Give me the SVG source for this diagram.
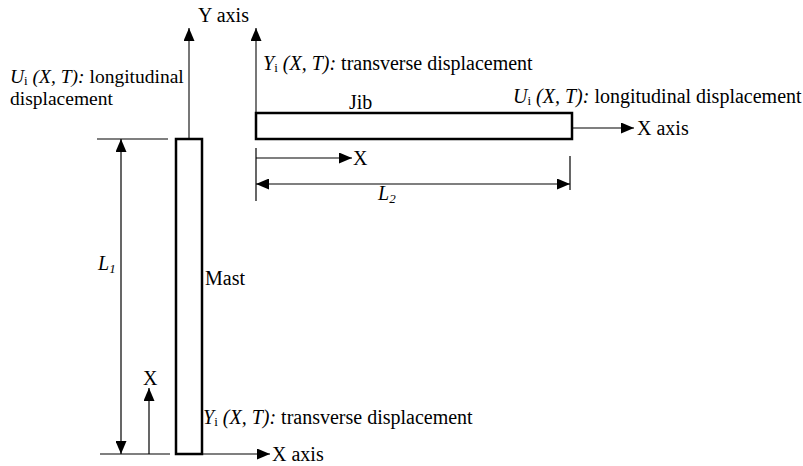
<svg xmlns="http://www.w3.org/2000/svg" width="803" height="466" viewBox="0 0 803 466">
<style>
.t{font-family:"Liberation Serif","Times New Roman",serif;font-size:20px;fill:#000}
.m{font-size:19.5px}
.i{font-style:italic}
.s{font-size:13px}
.ln{stroke:#000;stroke-width:1.2;fill:none}
.ax{stroke:#555;stroke-width:1.6;fill:none}
.box{fill:#fff;stroke:#000;stroke-width:2.5}
</style>
<defs>
<marker id="ah" markerUnits="userSpaceOnUse" markerWidth="13" markerHeight="11" refX="13" refY="5.5" orient="auto-start-reverse" viewBox="0 0 13 11">
<path d="M0,0 L13,5.5 L0,11 z" fill="#000"/>
</marker>
</defs>
<rect width="803" height="466" fill="#fff"/>
<g id="connectors">
<line class="ax" x1="189" y1="139" x2="189" y2="28" marker-end="url(#ah)"/>
<line class="ax" x1="256" y1="113" x2="256" y2="28" marker-end="url(#ah)"/>
<line class="ln" x1="572" y1="128" x2="634" y2="128" marker-end="url(#ah)"/>
<line class="ln" x1="202" y1="454" x2="270" y2="454" marker-end="url(#ah)"/>
<line class="ln" x1="256" y1="158" x2="352" y2="158" marker-end="url(#ah)"/>
<line class="ln" x1="256" y1="148" x2="256" y2="201"/>
<line class="ln" x1="570" y1="156" x2="570" y2="190"/>
<line class="ln" x1="256" y1="184" x2="570" y2="184" marker-start="url(#ah)" marker-end="url(#ah)"/>
<line class="ln" x1="97" y1="139" x2="168" y2="139"/>
<line class="ln" x1="100" y1="454" x2="170" y2="454"/>
<line class="ln" x1="121" y1="139" x2="121" y2="454" marker-start="url(#ah)" marker-end="url(#ah)"/>
<line class="ln" x1="149" y1="454" x2="149" y2="388" marker-end="url(#ah)"/>
</g>
<g id="mast">
<rect class="box" x="176" y="139" width="26" height="315"/>
<text class="t" x="205" y="285">Mast</text>
</g>
<g id="jib">
<rect class="box" x="256" y="113" width="316" height="26"/>
<text class="t" x="349" y="109">Jib</text>
</g>
<g id="labels">
<text class="t" x="198" y="22">Y axis</text>
<text class="t m" x="10" y="83"><tspan class="i">U</tspan><tspan class="s" dy="2">i</tspan><tspan class="i" dy="-2"> (X, T):</tspan> longitudinal</text>
<text class="t m" x="10" y="105">displacement</text>
<text class="t" x="263" y="70"><tspan class="i">Y</tspan><tspan class="s" dy="2">i</tspan><tspan class="i" dy="-2"> (X, T):</tspan> transverse displacement</text>
<text class="t" x="513" y="103"><tspan class="i">U</tspan><tspan class="s" dy="2">i</tspan><tspan class="i" dy="-2"> (X, T):</tspan> longitudinal displacement</text>
<text class="t" x="637" y="135">X axis</text>
<text class="t" x="353" y="165">X</text>
<text class="t" x="378" y="200"><tspan class="i">L</tspan><tspan class="s i" dy="3">2</tspan></text>
<text class="t" x="98" y="270"><tspan class="i">L</tspan><tspan class="s i" dy="3">1</tspan></text>
<text class="t" x="143" y="385">X</text>
<text class="t" x="203" y="424"><tspan class="i">Y</tspan><tspan class="s" dy="2">i</tspan><tspan class="i" dy="-2"> (X, T):</tspan> transverse displacement</text>
<text class="t" x="272" y="461">X axis</text>
</g>
</svg>
